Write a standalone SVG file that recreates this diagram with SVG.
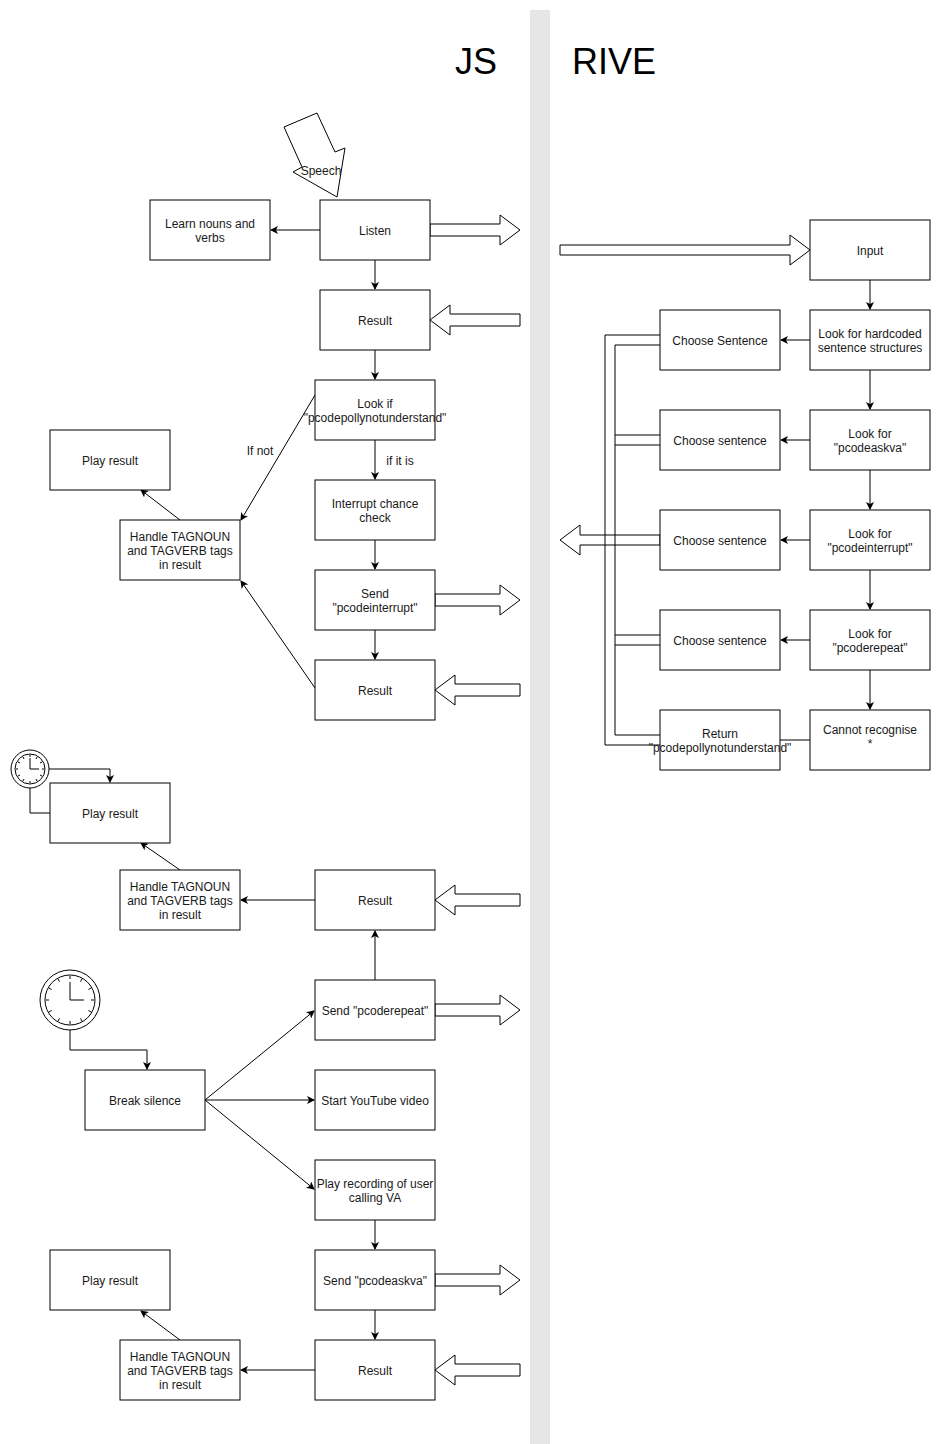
<svg xmlns="http://www.w3.org/2000/svg" width="941" height="1444" viewBox="0 0 941 1444">
<defs>
<style>
.b{fill:#fff;stroke:#000;stroke-width:1}
.t{font-family:"Liberation Sans",Arial,sans-serif;font-size:12px;text-anchor:middle;fill:#1a1a1a}
.e{fill:none;stroke:#000;stroke-width:1}
.ba{fill:#fff;stroke:#000;stroke-width:1}
</style>
<marker id="a" markerWidth="8" markerHeight="8" refX="7" refY="4" orient="auto" markerUnits="userSpaceOnUse"><path d="M0,0 L8,4 L0,8 L2,4 Z" fill="#000"/></marker>
<symbol id="ra" overflow="visible"><path class="ba" d="M0,-6 H70 V-15 L90,0 L70,15 V6 H0 Z"/></symbol>
<symbol id="la" overflow="visible"><path class="ba" d="M90,-6 H20 V-15 L0,0 L20,15 V6 H90 Z"/></symbol>
<symbol id="ra2" overflow="visible"><path class="ba" d="M0,-6 H65 V-15 L85,0 L65,15 V6 H0 Z"/></symbol>
<symbol id="la2" overflow="visible"><path class="ba" d="M85,-6 H20 V-15 L0,0 L20,15 V6 H85 Z"/></symbol>
</defs>
<rect width="941" height="1444" fill="#fff"/>
<rect x="530" y="10" width="20" height="1434" fill="#e6e6e6"/>
<text x="476" y="74" font-family="Liberation Sans,Arial,sans-serif" font-size="36" text-anchor="middle">JS</text>
<text x="614" y="74" font-family="Liberation Sans,Arial,sans-serif" font-size="36" text-anchor="middle">RIVE</text>
<g id="speech"><polygon class="ba" points="284,127 317,113 335,152 345,148 337,197 293,172 302,167"/><text class="t" x="321" y="175" font-size="11">Speech</text></g>
<g id="connectors">
<line class="e" x1="320" y1="230" x2="271" y2="230" marker-end="url(#a)"/>
<line class="e" x1="375" y1="260" x2="375" y2="289" marker-end="url(#a)"/>
<line class="e" x1="375" y1="350" x2="375" y2="379" marker-end="url(#a)"/>
<line class="e" x1="375" y1="440" x2="375" y2="479" marker-end="url(#a)"/>
<text class="t" x="400" y="465">if it is</text>
<line class="e" x1="375" y1="540" x2="375" y2="569" marker-end="url(#a)"/>
<line class="e" x1="375" y1="630" x2="375" y2="659" marker-end="url(#a)"/>
<line class="e" x1="315" y1="395" x2="241" y2="520" marker-end="url(#a)"/>
<text class="t" x="260" y="455">If not</text>
<line class="e" x1="315" y1="688" x2="241" y2="581" marker-end="url(#a)"/>
<line class="e" x1="180" y1="520" x2="141" y2="490" marker-end="url(#a)"/>
<path class="e" d="M49,769 H110 V782" marker-end="url(#a)"/>
<path class="e" d="M30,788 V813 H50"/>
<line class="e" x1="180" y1="870" x2="141" y2="843" marker-end="url(#a)"/>
<line class="e" x1="315" y1="900" x2="241" y2="900" marker-end="url(#a)"/>
<line class="e" x1="375" y1="980" x2="375" y2="931" marker-end="url(#a)"/>
<path class="e" d="M70,1030 V1050 H147 V1069" marker-end="url(#a)"/>
<line class="e" x1="205" y1="1100" x2="314" y2="1011" marker-end="url(#a)"/>
<line class="e" x1="205" y1="1100" x2="314" y2="1100" marker-end="url(#a)"/>
<line class="e" x1="205" y1="1100" x2="314" y2="1189" marker-end="url(#a)"/>
<line class="e" x1="375" y1="1220" x2="375" y2="1249" marker-end="url(#a)"/>
<line class="e" x1="375" y1="1310" x2="375" y2="1339" marker-end="url(#a)"/>
<line class="e" x1="315" y1="1370" x2="241" y2="1370" marker-end="url(#a)"/>
<line class="e" x1="180" y1="1340" x2="141" y2="1311" marker-end="url(#a)"/>
<line class="e" x1="870" y1="280" x2="870" y2="309" marker-end="url(#a)"/>
<line class="e" x1="870" y1="370" x2="870" y2="409" marker-end="url(#a)"/>
<line class="e" x1="870" y1="470" x2="870" y2="509" marker-end="url(#a)"/>
<line class="e" x1="870" y1="570" x2="870" y2="609" marker-end="url(#a)"/>
<line class="e" x1="870" y1="670" x2="870" y2="709" marker-end="url(#a)"/>
<line class="e" x1="810" y1="340" x2="781" y2="340" marker-end="url(#a)"/>
<line class="e" x1="810" y1="440" x2="781" y2="440" marker-end="url(#a)"/>
<line class="e" x1="810" y1="540" x2="781" y2="540" marker-end="url(#a)"/>
<line class="e" x1="810" y1="640" x2="781" y2="640" marker-end="url(#a)"/>
<line class="e" x1="810" y1="740" x2="780" y2="740"/>
<path class="e" d="M660,335 H605 V745 H660"/>
<path class="e" d="M660,345 H615 V735 H660"/>
<path class="e" d="M615,435 H660 M615,445 H660 M615,635 H660 M615,645 H660"/>
<path class="ba" d="M660,535 H580 V525 L560,540 L580,555 V545 H660 Z"/>
<path class="e" d="M605,535 V545 M615,535 V545"/>
<use href="#ra" x="430" y="230"/>
<use href="#la" x="430" y="320"/>
<path class="ba" d="M560,245 H790 V235 L810,250 L790,265 V255 H560 Z"/>
<use href="#ra2" x="435" y="600"/>
<use href="#la2" x="435" y="690"/>
<use href="#la2" x="435" y="900"/>
<use href="#ra2" x="435" y="1010"/>
<use href="#ra2" x="435" y="1280"/>
<use href="#la2" x="435" y="1370"/>
</g>
<g id="clock1"><circle class="b" cx="30" cy="769" r="19"/><circle class="b" cx="30" cy="769" r="15"/><path class="e" d="M30,758 V769 H39 M30,755 V757 M30,781 V783 M16,769 H18 M42,769 H44 M23,757 L24,759 M37,757 L36,759 M23,781 L24,779 M37,781 L36,779 M18,762 L20,763 M42,762 L40,763 M18,776 L20,775 M42,776 L40,775"/></g>
<g id="clock2"><circle class="b" cx="70" cy="1000" r="30"/><circle class="b" cx="70" cy="1000" r="25"/><path class="e" d="M70,982 V1000 H84 M70,976 V979 M70,1021 V1024 M46,1000 H49 M91,1000 H94 M58,979 L59.5,981.6 M82,979 L80.5,981.6 M58,1021 L59.5,1018.4 M82,1021 L80.5,1018.4 M49,988 L51.6,989.5 M91,988 L88.4,989.5 M49,1012 L51.6,1010.5 M91,1012 L88.4,1010.5"/></g>
<g id="learn"><rect class="b" x="150" y="200" width="120" height="60"/><text class="t" x="210" y="228">Learn nouns and</text><text class="t" x="210" y="242">verbs</text></g>
<g id="listen"><rect class="b" x="320" y="200" width="110" height="60"/><text class="t" x="375" y="235">Listen</text></g>
<g id="result1"><rect class="b" x="320" y="290" width="110" height="60"/><text class="t" x="375" y="325">Result</text></g>
<g id="lookif"><rect class="b" x="315" y="380" width="120" height="60"/><text class="t" x="375" y="408">Look if</text><text class="t" x="375" y="422">"pcodepollynotunderstand"</text></g>
<g id="interrupt"><rect class="b" x="315" y="480" width="120" height="60"/><text class="t" x="375" y="508">Interrupt chance</text><text class="t" x="375" y="522">check</text></g>
<g id="sendint"><rect class="b" x="315" y="570" width="120" height="60"/><text class="t" x="375" y="598">Send</text><text class="t" x="375" y="612">"pcodeinterrupt"</text></g>
<g id="result2"><rect class="b" x="315" y="660" width="120" height="60"/><text class="t" x="375" y="695">Result</text></g>
<g id="play1"><rect class="b" x="50" y="430" width="120" height="60"/><text class="t" x="110" y="465">Play result</text></g>
<g id="handle1"><rect class="b" x="120" y="520" width="120" height="60"/><text class="t" x="180" y="541">Handle TAGNOUN</text><text class="t" x="180" y="555">and TAGVERB tags</text><text class="t" x="180" y="569">in result</text></g>
<g id="play2"><rect class="b" x="50" y="783" width="120" height="60"/><text class="t" x="110" y="818">Play result</text></g>
<g id="handle2"><rect class="b" x="120" y="870" width="120" height="60"/><text class="t" x="180" y="891">Handle TAGNOUN</text><text class="t" x="180" y="905">and TAGVERB tags</text><text class="t" x="180" y="919">in result</text></g>
<g id="result3"><rect class="b" x="315" y="870" width="120" height="60"/><text class="t" x="375" y="905">Result</text></g>
<g id="sendrep"><rect class="b" x="315" y="980" width="120" height="60"/><text class="t" x="375" y="1015">Send "pcoderepeat"</text></g>
<g id="break"><rect class="b" x="85" y="1070" width="120" height="60"/><text class="t" x="145" y="1105">Break silence</text></g>
<g id="youtube"><rect class="b" x="315" y="1070" width="120" height="60"/><text class="t" x="375" y="1105">Start YouTube video</text></g>
<g id="recording"><rect class="b" x="315" y="1160" width="120" height="60"/><text class="t" x="375" y="1188">Play recording of user</text><text class="t" x="375" y="1202">calling VA</text></g>
<g id="sendask"><rect class="b" x="315" y="1250" width="120" height="60"/><text class="t" x="375" y="1285">Send "pcodeaskva"</text></g>
<g id="result4"><rect class="b" x="315" y="1340" width="120" height="60"/><text class="t" x="375" y="1375">Result</text></g>
<g id="play3"><rect class="b" x="50" y="1250" width="120" height="60"/><text class="t" x="110" y="1285">Play result</text></g>
<g id="handle3"><rect class="b" x="120" y="1340" width="120" height="60"/><text class="t" x="180" y="1361">Handle TAGNOUN</text><text class="t" x="180" y="1375">and TAGVERB tags</text><text class="t" x="180" y="1389">in result</text></g>
<g id="input"><rect class="b" x="810" y="220" width="120" height="60"/><text class="t" x="870" y="255">Input</text></g>
<g id="hardcoded"><rect class="b" x="810" y="310" width="120" height="60"/><text class="t" x="870" y="338">Look for hardcoded</text><text class="t" x="870" y="352">sentence structures</text></g>
<g id="lookask"><rect class="b" x="810" y="410" width="120" height="60"/><text class="t" x="870" y="438">Look for</text><text class="t" x="870" y="452">"pcodeaskva"</text></g>
<g id="lookint"><rect class="b" x="810" y="510" width="120" height="60"/><text class="t" x="870" y="538">Look for</text><text class="t" x="870" y="552">"pcodeinterrupt"</text></g>
<g id="lookrep"><rect class="b" x="810" y="610" width="120" height="60"/><text class="t" x="870" y="638">Look for</text><text class="t" x="870" y="652">"pcoderepeat"</text></g>
<g id="cannot"><rect class="b" x="810" y="710" width="120" height="60"/><text class="t" x="870" y="734">Cannot recognise</text><text class="t" x="870" y="748">*</text></g>
<g id="choose1"><rect class="b" x="660" y="310" width="120" height="60"/><text class="t" x="720" y="345">Choose Sentence</text></g>
<g id="choose2"><rect class="b" x="660" y="410" width="120" height="60"/><text class="t" x="720" y="445">Choose sentence</text></g>
<g id="choose3"><rect class="b" x="660" y="510" width="120" height="60"/><text class="t" x="720" y="545">Choose sentence</text></g>
<g id="choose4"><rect class="b" x="660" y="610" width="120" height="60"/><text class="t" x="720" y="645">Choose sentence</text></g>
<g id="return"><rect class="b" x="660" y="710" width="120" height="60"/><text class="t" x="720" y="738">Return</text><text class="t" x="720" y="752">"pcodepollynotunderstand"</text></g>
</svg>
